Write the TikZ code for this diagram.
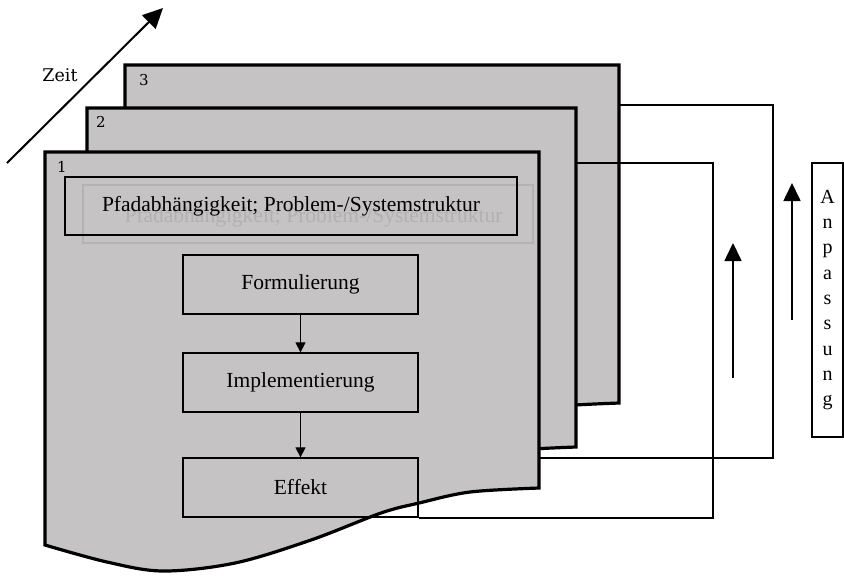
\documentclass[tikz,border=0pt]{standalone}
\usepackage{fontspec}
\setmainfont{Liberation Serif}
\newfontfamily\dvserif{DejaVu Serif}
\usetikzlibrary{arrows.meta}
\definecolor{sheetgray}{RGB}{197,195,196}
\definecolor{ghostline}{RGB}{180,178,179}
\definecolor{ghosttext}{RGB}{178,176,177}
\begin{document}
\begin{tikzpicture}[x=0.5pt,y=-0.5pt,
  sheet/.style={fill=sheetgray,draw=black,line width=1.6pt,line join=miter},
  box/.style={draw=black,line width=0.65pt,minimum width=117.5pt,minimum height=29.5pt,inner sep=0pt,font=\fontsize{10.75}{13}\selectfont},
  flow/.style={line width=0.6pt,-{Triangle[length=5pt,width=5pt]}},
  link/.style={line width=1pt},
  uparrow/.style={line width=0.85pt,-{Triangle[length=9pt,width=8.5pt]}},
  num/.style={font=\dvserif\fontsize{7.5}{9}\selectfont,inner sep=0pt}]
\useasboundingbox (0,0) rectangle (844,575);

% sheet 3
\begin{scope}[shift={(125,65)}]
\draw[sheet] (0,0) -- (494,0) -- (494,338) -- plot[smooth,tension=0.55] coordinates {(494,338) (425,342) (374,353) (336,363) (266,390) (190,413) (118,421) (62,412) (0,395)} -- cycle;
\end{scope}
% sheet 2
\begin{scope}[shift={(87,108)}]
\draw[sheet] (0,0) -- (489,0) -- (489,339) -- plot[smooth,tension=0.55] coordinates {(489,339) (421,343) (370,354) (333,364) (263,391) (188,414) (117,422) (61,413) (0,396)} -- cycle;
\end{scope}
% sheet 1
\begin{scope}[shift={(45,152)}]
\draw[sheet] (0,0) -- (494,0) -- (494,336) -- plot[smooth,tension=0.55] coordinates {(494,336) (425,340) (374,351) (336,361) (266,388) (190,411) (118,419) (62,410) (0,393)} -- cycle;
\end{scope}

\node[num] (n3) at (144,80) {3};
\node[num] (n2) at (101,122) {2};
\node[num] (n1) at (62,167) {1};

% faint ghost of the first box
\node[draw=ghostline,line width=1.3pt,minimum width=225pt,minimum height=29pt,inner sep=0pt] (ghost) at (308,214) {};
\node[text=ghosttext,font=\fontsize{10.75}{13}\selectfont] (ghosttxt) at (313.5,217) {Pfadabhängigkeit; Problem-/Systemstruktur};

% boxes
\node[box,minimum width=226pt,minimum height=29pt] (pfad) at (291,206) {Pfadabhängigkeit; Problem-/Systemstruktur};
\node[box] (form) at (300.5,284.5) {Formulierung};
\node[box] (impl) at (300.5,382.5) {Implementierung};
\node[box] (eff) at (300.5,487.5) {Effekt};
\draw[flow] (form) -- (impl);
\draw[flow] (impl) -- (eff);

% feedback loops
\coordinate (s3r) at (619,105);
\coordinate (s2r) at (577,163);
\coordinate (s1r) at (540,458);
\coordinate (r1) at (773,300);
\coordinate (r2) at (713,300);
\draw[link] (s1r) -| (r1) |- (s3r);
\draw[link] (eff.south east) -| (r2) |- (s2r);

% up arrows
\coordinate (ua) at (733,378);
\coordinate (uat) at (733,243);
\coordinate (ub) at (792,320);
\coordinate (ubt) at (792,183);
\draw[uparrow] (ua) -- (uat);
\draw[uparrow] (ub) -- (ubt);

% Anpassung
\node[draw=black,line width=0.65pt,minimum width=15.5pt,minimum height=137pt,inner sep=0pt,align=center,font=\fontsize{10}{12.65}\selectfont] (anp) at (827.5,300) {A\\n\\p\\a\\s\\s\\u\\n\\g};

% Zeit
\coordinate (z0) at (7,163);
\coordinate (z1) at (163,8);
\draw[line width=1pt,-{Triangle[length=10pt,width=9.5pt]}] (z0) -- (z1);
\node[font=\dvserif\fontsize{8.75}{10}\selectfont,inner sep=0pt] (zeit) at (60,75) {Zeit};
\end{tikzpicture}
\end{document}
